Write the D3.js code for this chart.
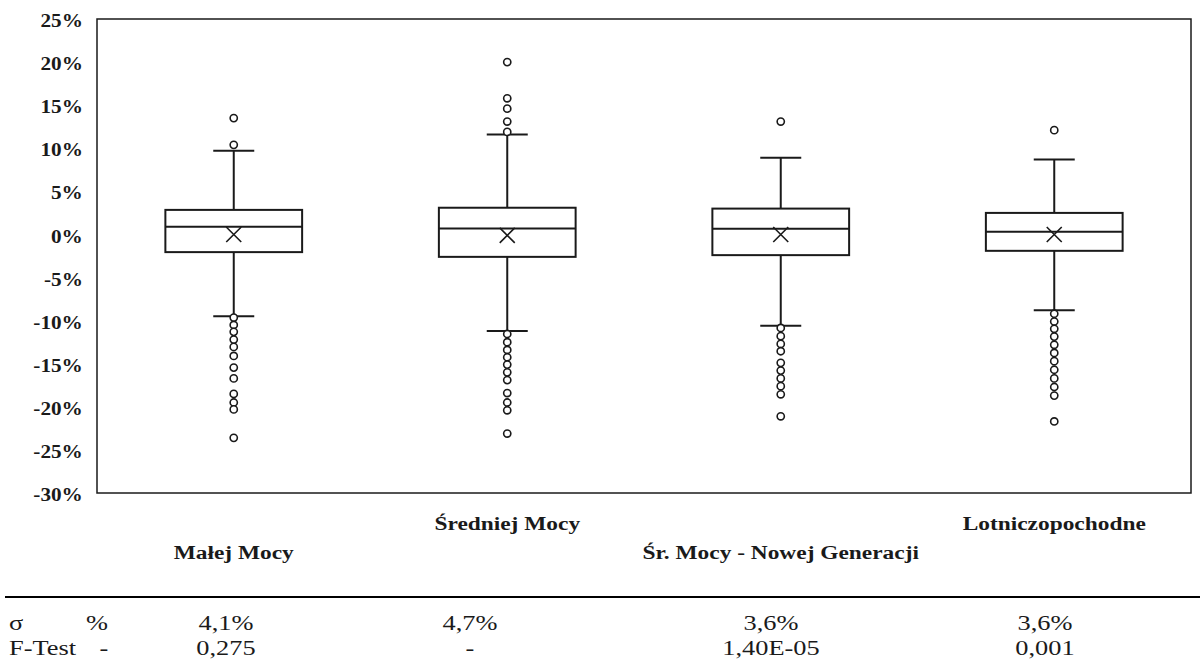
<!DOCTYPE html>
<html>
<head>
<meta charset="utf-8">
<script src="https://cdn.jsdelivr.net/npm/d3@7"></script>
<style>
  html, body { margin: 0; padding: 0; background: #fff; }
  svg { display: block; }
  svg text { font-family: "Liberation Serif", "Times New Roman", Tinos, serif; }
</style>
</head>
<body>
<svg id="chart" width="1200" height="671"></svg>
<script>
// ---------- DATA ----------
const categories = ["Małej Mocy", "Średniej Mocy", "Śr. Mocy - Nowej Generacji", "Lotniczopochodne"];
const whiskerHigh = [9.7, 11.6, 8.9, 8.7];
const q3Values     = [2.85, 3.1, 3.0, 2.5];
const medianValues = [0.9, 0.7, 0.65, 0.3];
const meanValues   = [0.0, -0.1, 0.0, 0.0];
const q1Values     = [-2.05, -2.6, -2.4, -1.9];
const whiskerLow   = [-9.5, -11.2, -10.6, -8.8];
const outliers1 = [13.5, 10.4, -9.65, -10.5, -11.3, -12.2, -13.05, -14.1, -15.45, -16.7, -18.5, -19.5, -20.3, -23.6];
const outliers2 = [20.0, 15.8, 14.6, 13.1, 11.9, -11.55, -12.5, -13.4, -14.25, -15.1, -16.0, -16.9, -18.4, -19.5, -20.4, -23.1];
const outliers3 = [13.1, -10.85, -11.8, -12.7, -13.55, -14.9, -15.8, -16.7, -17.6, -18.55, -21.1];
const outliers4 = [12.1, -9.2, -10.1, -10.95, -11.85, -12.8, -13.75, -14.7, -15.7, -16.7, -17.7, -18.7, -21.7];
const outlierSets = [outliers1, outliers2, outliers3, outliers4];
const yTickValues = [25, 20, 15, 10, 5, 0, -5, -10, -15, -20, -25, -30];

const tableRowLabels = ["σ", "F-Test"];
const tableRowUnits  = ["%", "-"];
const sigmaRow  = ["4,1%", "4,7%", "3,6%", "3,6%"];
const fTestRow  = ["0,275", "-", "1,40E-05", "0,001"];

// ---------- LAYOUT ----------
const svg = d3.select("#chart");
svg.append("rect").attr("width", 1200).attr("height", 671).attr("fill", "#fff");

const plot = { left: 97, right: 1191, top: 19, bottom: 493 };
const ink = "#1a1a1a";

const x = d3.scaleBand().domain(categories).range([plot.left, plot.right]).padding(0);
const y = d3.scaleLinear().domain([-30, 25]).range([plot.bottom, plot.top]);

// Frame
svg.append("rect")
  .attr("x", plot.left).attr("y", plot.top)
  .attr("width", plot.right - plot.left).attr("height", plot.bottom - plot.top)
  .attr("fill", "none").attr("stroke", ink).attr("stroke-width", 1.5);

// Y axis
const sxAxis = 1.18;
const yAxis = d3.axisLeft(y).tickValues(yTickValues).tickSize(0).tickPadding(12)
  .tickFormat(d => d + "%");
const gy = svg.append("g").attr("transform", `translate(${plot.left},0)`).call(yAxis);
gy.select(".domain").remove();
gy.attr("font-family", null);
gy.selectAll("text")
  .style("font-family", '"Liberation Serif", "Times New Roman", serif')
  .attr("font-weight", "bold").attr("font-size", 18)
  .attr("fill", ink).attr("dy", "0.42em")
  .attr("transform", `scale(${sxAxis},1)`);

// Boxes
const boxW = x.bandwidth() * 0.5;
const capW = 41;
categories.forEach((c, i) => {
  const cx = x(c) + x.bandwidth() / 2;
  const g = svg.append("g").attr("stroke", ink).attr("fill", "none").attr("stroke-width", 2);
  g.append("line").attr("x1", cx).attr("x2", cx).attr("y1", y(whiskerHigh[i])).attr("y2", y(q3Values[i]));
  g.append("line").attr("x1", cx).attr("x2", cx).attr("y1", y(q1Values[i])).attr("y2", y(whiskerLow[i]));
  g.append("line").attr("x1", cx - capW / 2).attr("x2", cx + capW / 2).attr("y1", y(whiskerHigh[i])).attr("y2", y(whiskerHigh[i]));
  g.append("line").attr("x1", cx - capW / 2).attr("x2", cx + capW / 2).attr("y1", y(whiskerLow[i])).attr("y2", y(whiskerLow[i]));
  g.append("rect").attr("x", cx - boxW / 2).attr("y", y(q3Values[i]))
    .attr("width", boxW).attr("height", y(q1Values[i]) - y(q3Values[i])).attr("fill", "#fff");
  g.append("line").attr("x1", cx - boxW / 2).attr("x2", cx + boxW / 2)
    .attr("y1", y(medianValues[i])).attr("y2", y(medianValues[i]));
  const my = y(meanValues[i]), s = 7.5;
  g.append("path").attr("stroke-width", 1.6)
    .attr("d", `M${cx - s},${my - s}L${cx + s},${my + s}M${cx - s},${my + s}L${cx + s},${my - s}`);
  g.selectAll("circle.o").data(outlierSets[i]).enter().append("circle")
    .attr("class", "o").attr("cx", cx).attr("cy", d => y(d)).attr("r", 3.6)
    .attr("fill", "#fff").attr("stroke-width", 1.6);
});

// Category labels (staggered)
const sxCat = 1.2;
categories.forEach((c, i) => {
  const cx = x(c) + x.bandwidth() / 2;
  const ly = i % 2 === 0 ? 552 : 523;
  svg.append("text")
    .attr("transform", `translate(${cx},${ly}) scale(${sxCat},1)`)
    .attr("text-anchor", "middle").attr("dy", "0.35em")
    .attr("font-weight", "bold").attr("font-size", 19.5)
    .attr("fill", ink).text(c);
});

// Table
svg.append("line").attr("x1", 5).attr("x2", 1200).attr("y1", 597).attr("y2", 597)
  .attr("stroke", "#000").attr("stroke-width", 2);
const colX = [226, 470, 771, 1045];
const rowY = [623, 648];
const sxTab = 1.32;
const rows = [sigmaRow, fTestRow];
rows.forEach((row, r) => {
  svg.append("text").attr("transform", `translate(9,${rowY[r]}) scale(${sxTab},1)`)
    .attr("dy", "0.35em").attr("font-size", 20).attr("fill", ink)
    .text(tableRowLabels[r]);
  svg.append("text").attr("transform", `translate(${r === 0 ? 97 : 104},${rowY[r]}) scale(${sxTab},1)`)
    .attr("text-anchor", "middle").attr("dy", "0.35em").attr("font-size", 20).attr("fill", ink)
    .text(tableRowUnits[r]);
  row.forEach((v, j) => {
    svg.append("text").attr("transform", `translate(${colX[j]},${rowY[r]}) scale(${sxTab},1)`)
      .attr("text-anchor", "middle").attr("dy", "0.35em").attr("font-size", 20).attr("fill", ink)
      .text(v);
  });
});
</script>
</body>
</html>
